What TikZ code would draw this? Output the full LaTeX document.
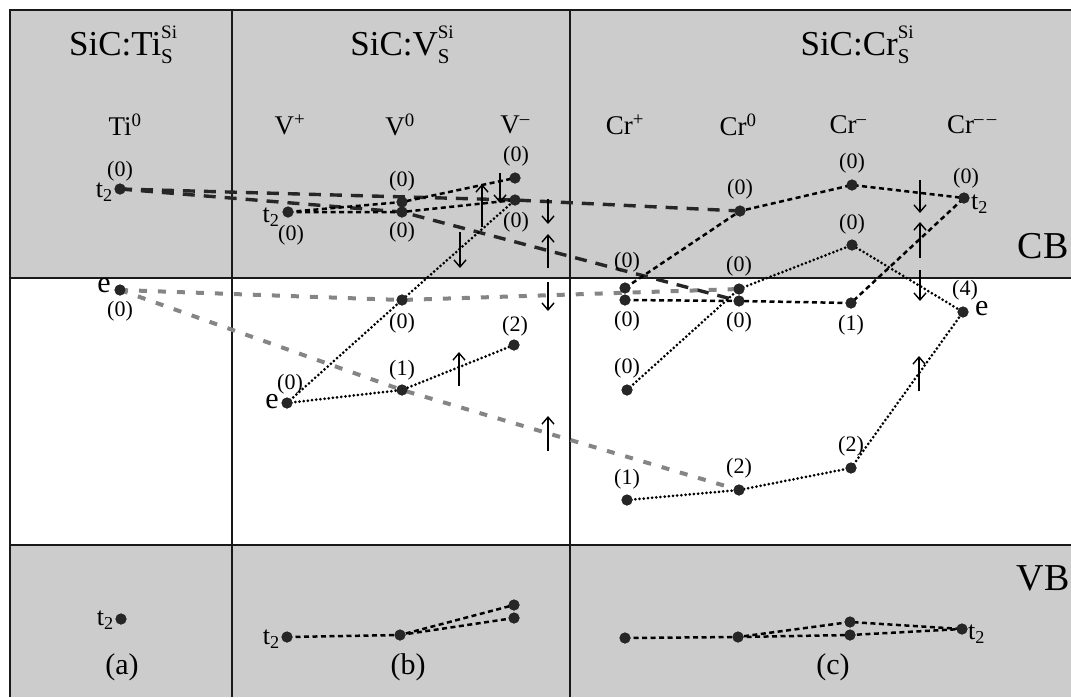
\documentclass[tikz,border=0pt]{standalone}
\usepackage{fontspec}
\setmainfont{Liberation Serif}
\usetikzlibrary{arrows.meta}
\newcommand\fsz[1]{\fontsize{#1}{#1}\selectfont}
\newcommand\SupSub[2]{\rlap{\raisebox{17pt}{\fsz{19pt}#1}}\raisebox{-8pt}{\fsz{21pt}#2}}
\definecolor{bandgray}{gray}{0.80}
\definecolor{linkgray}{gray}{0.52}
\begin{document}
\begin{tikzpicture}[x=1pt,y=-1pt,
  dot/.style={circle,fill=black!85,inner sep=0pt,minimum size=11pt},
  num/.style={inner sep=0pt,font=\fsz{22pt}},
  tlab/.style={inner sep=0pt,font=\fsz{26pt}},
  elab/.style={inner sep=0pt,font=\fsz{30pt}},
  head/.style={inner sep=0pt,font=\fsz{35pt}},
  col/.style={inner sep=0pt,font=\fsz{27pt}},
  band/.style={inner sep=0pt,font=\fsz{38pt}},
  panel/.style={inner sep=0pt,font=\fsz{30pt}},
  frame/.style={line width=2.6pt,black!90},
  heavy/.style={line width=3.4pt,black!85,dash pattern=on 12pt off 9pt},
  graylink/.style={line width=4pt,linkgray,dash pattern=on 8pt off 11pt},
  fdot/.style={line width=3pt,line cap=round,dash pattern=on 0pt off 4.2pt},
  sdash/.style={line width=2.5pt,dash pattern=on 5pt off 3.5pt},
  spin/.style={line width=1.4pt,-{Straight Barb[length=7pt,width=12pt,line width=1.4pt]}}
]
\useasboundingbox (0,0) rectangle (1071,697);
% bands
\fill[bandgray] (10,10) rectangle (1071,278);
\fill[bandgray] (10,545) rectangle (1071,697);
% frame
\draw[frame] (10,697) -- (10,10) -- (1071,10);
\draw[frame] (232,10) -- (232,697);
\draw[frame] (570,10) -- (570,697);
\draw[frame] (10,278) -- (1071,278);
\draw[frame] (10,545) -- (1071,545);

% headers
\node[head] (hTi) at (121,45) {SiC:Ti\SupSub{Si}{S}};
\node[head] (hV) at (400,45) {SiC:V\SupSub{Si}{S}};
\node[head] (hCr) at (855,45) {SiC:Cr\SupSub{Si}{S}};
\node[col] (cTi) at (125,125) {Ti\textsuperscript{0}};
\node[col] (cVp) at (290,125) {V\textsuperscript{+}};
\node[col] (cV0) at (400,125) {V\textsuperscript{0}};
\node[col] (cVm) at (515,125) {V\textsuperscript{–}};
\node[col] (cCrp) at (625,125) {Cr\textsuperscript{+}};
\node[col] (cCr0) at (738,125) {Cr\textsuperscript{0}};
\node[col] (cCrm) at (848,125) {Cr\textsuperscript{–}};
\node[col] (cCrmm) at (972,125) {Cr\textsuperscript{–\,–}};
\node[band] (CB) at (1043,246) {CB};
\node[band] (VB) at (1043,578) {VB};
\node[panel] (pa) at (122,667) {(a)};
\node[panel] (pb) at (408,667) {(b)};
\node[panel] (pc) at (833,667) {(c)};

% ---- dots: Ti
\node[dot] (tiT) at (120,189) {};
\node[dot] (tiE) at (120,290) {};
\node[dot] (tiV) at (121,619) {};
% ---- dots: V
\node[dot] (vpT) at (288,212) {};
\node[dot] (vpE) at (287,403) {};
\node[dot] (v0Ta) at (402,202) {};
\node[dot] (v0Tb) at (402,212) {};
\node[dot] (v0E) at (402,300) {};
\node[dot] (v0F) at (402,390) {};
\node[dot] (vmTa) at (515,178) {};
\node[dot] (vmTb) at (515,200) {};
\node[dot] (vmF) at (514,345) {};
\node[dot] (vpV) at (287,637) {};
\node[dot] (v0V) at (400,635) {};
\node[dot] (vmVa) at (514,605) {};
\node[dot] (vmVb) at (514,618) {};
% ---- dots: Cr
\node[dot] (cpA) at (625,288) {};
\node[dot] (cpB) at (625,300) {};
\node[dot] (cpE) at (627,390) {};
\node[dot] (cpF) at (627,500) {};
\node[dot] (c0T) at (740,211) {};
\node[dot] (c0A) at (739,289) {};
\node[dot] (c0B) at (739,301) {};
\node[dot] (c0F) at (739,490) {};
\node[dot] (cmT) at (852,185) {};
\node[dot] (cmU) at (852,245) {};
\node[dot] (cmE) at (851,303) {};
\node[dot] (cmF) at (851,468) {};
\node[dot] (cmmT) at (964,198) {};
\node[dot] (cmmE) at (963,312) {};
\node[dot] (cpV) at (625,638) {};
\node[dot] (c0V) at (738,637) {};
\node[dot] (cmVa) at (850,622) {};
\node[dot] (cmVb) at (850,635) {};
\node[dot] (cmmV) at (962,629) {};

% ---- links across columns
\draw[heavy] (tiT.center) -- (vmTb.center) -- (c0T.center);
\draw[heavy] (tiT.center) -- (v0Tb.center) -- (c0B.center);
\draw[graylink] (tiE.center) -- (v0E.center) -- (c0A.center);
\draw[graylink] (tiE.center) -- (v0F.center) -- (c0F.center);

% ---- V column
\draw[sdash] (vpT.center) -- (v0Ta.center) -- (vmTa.center);
\draw[sdash] (vpT.center) -- (v0Tb.center) -- (vmTb.center);
\draw[fdot] (vpE.center) -- (v0E.center) -- (vmTb.center);
\draw[fdot] (vpE.center) -- (v0F.center) -- (vmF.center);
\draw[sdash] (vpV.center) -- (v0V.center) -- (vmVa.center);
\draw[sdash] (v0V.center) -- (vmVb.center);

% ---- Cr column
\draw[sdash] (cpA.center) -- (c0T.center) -- (cmT.center) -- (cmmT.center);
\draw[sdash] (cpB.center) -- (c0B.center) -- (cmE.center) -- (cmmT.center);
\draw[fdot] (cpE.center) -- (c0A.center) -- (cmU.center) -- (cmmE.center);
\draw[fdot] (cpF.center) -- (c0F.center) -- (cmF.center) -- (cmmE.center);
\draw[sdash] (cpV.center) -- (c0V.center) -- (cmVa.center) -- (cmmV.center);
\draw[sdash] (c0V.center) -- (cmVb.center) -- (cmmV.center);

% redraw dots on top
\foreach \d in {tiT,tiE,tiV,vpT,vpE,v0Ta,v0Tb,v0E,v0F,vmTa,vmTb,vmF,vpV,v0V,vmVa,vmVb,
  cpA,cpB,cpE,cpF,c0T,c0A,c0B,c0F,cmT,cmU,cmE,cmF,cmmT,cmmE,cpV,c0V,cmVa,cmVb,cmmV}
  \fill[black!85] (\d.center) circle (5.5pt);

% ---- spin arrows
\coordinate (a1s) at (500,173); \coordinate (a1e) at (500,203);
\coordinate (a2s) at (482,227); \coordinate (a2e) at (482,184);
\coordinate (a3s) at (460,232); \coordinate (a3e) at (460,268);
\coordinate (a4s) at (548,199); \coordinate (a4e) at (548,224);
\coordinate (a5s) at (548,268); \coordinate (a5e) at (548,234);
\coordinate (a6s) at (548,282); \coordinate (a6e) at (548,311);
\coordinate (a7s) at (459,386); \coordinate (a7e) at (459,352);
\coordinate (a8s) at (548,451); \coordinate (a8e) at (548,416);
\coordinate (a9s) at (920,180); \coordinate (a9e) at (920,213);
\coordinate (a10s) at (920,258); \coordinate (a10e) at (920,222);
\coordinate (a11s) at (920,270); \coordinate (a11e) at (920,301);
\coordinate (a12s) at (919,391); \coordinate (a12e) at (919,356);
\foreach \a in {1,...,12} \draw[spin] (a\a s) -- (a\a e);

% ---- labels
\node[num] (lTiT) at (120,171) {(0)};
\node[tlab,anchor=east] (lTiT2) at (113,192) {t\textsubscript{2}};
\node[elab,anchor=east] (lTiE) at (111,286) {e};
\node[num] (lTiE0) at (120,311) {(0)};
\node[tlab,anchor=east] (lTiV) at (114,620) {t\textsubscript{2}};

\node[tlab] (lVpT2) at (271,217) {t\textsubscript{2}};
\node[num] (lVpT0) at (291,235) {(0)};
\node[elab,anchor=east] (lVpE) at (279,402) {e};
\node[num] (lVpE0) at (290,384) {(0)};
\node[num] (lV0a) at (402,181) {(0)};
\node[num] (lV0b) at (402,232) {(0)};
\node[num] (lV0E) at (402,323) {(0)};
\node[num] (lV0F) at (402,370) {(1)};
\node[num] (lVma) at (516,156) {(0)};
\node[num] (lVmb) at (516,222) {(0)};
\node[num] (lVmF) at (515,326) {(2)};
\node[tlab,anchor=east] (lVpV) at (280,639) {t\textsubscript{2}};

\node[num] (lCpA) at (627,262) {(0)};
\node[num] (lCpB) at (627,321) {(0)};
\node[num] (lCpE) at (627,368) {(0)};
\node[num] (lCpF) at (627,479) {(1)};
\node[num] (lC0T) at (740,189) {(0)};
\node[num] (lC0A) at (739,266) {(0)};
\node[num] (lC0B) at (739,322) {(0)};
\node[num] (lC0F) at (739,468) {(2)};
\node[num] (lCmT) at (852,163) {(0)};
\node[num] (lCmU) at (852,224) {(0)};
\node[num] (lCmE) at (851,325) {(1)};
\node[num] (lCmF) at (851,446) {(2)};
\node[num] (lCmmT) at (966,178) {(0)};
\node[tlab,anchor=west] (lCmmT2) at (971,204) {t\textsubscript{2}};
\node[num] (lCmmE) at (965,290) {(4)};
\node[elab,anchor=west] (lCmmEe) at (975,309) {e};
\node[tlab,anchor=west] (lCmmV) at (968,634) {t\textsubscript{2}};
\end{tikzpicture}
\end{document}
